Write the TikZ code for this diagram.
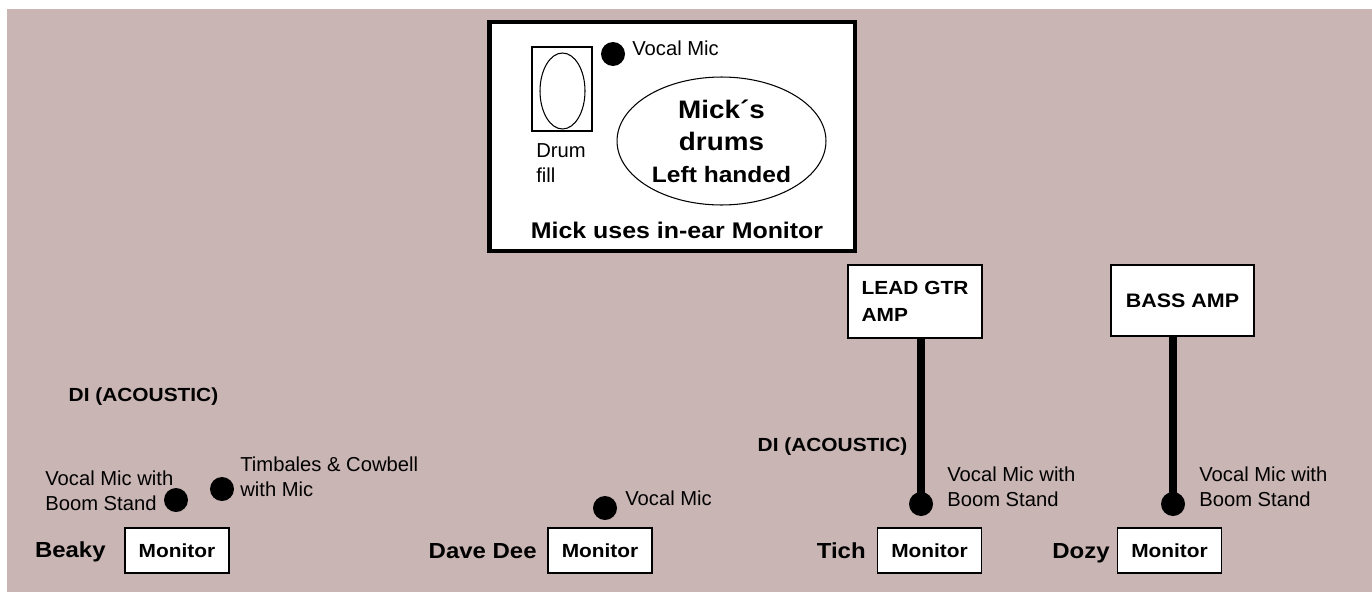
\documentclass[tikz,border=0pt]{standalone}
\usepackage{fontspec}
\setmainfont{Liberation Sans}[BoldFeatures={FakeStretch=1.1}]
\usepackage{xcolor}
\usetikzlibrary{positioning, shapes.geometric}
\definecolor{stagebg}{RGB}{201,181,179}

\begin{document}
\begin{tikzpicture}[x=0.02cm, y=-0.02cm,
    mon/.style={rectangle, draw, fill=white, line width=0.8pt, minimum width=2.08cm,
                minimum height=0.9cm, inner sep=0pt, font=\bfseries\fontsize{10.8}{12}\selectfont},
    amp/.style={rectangle, draw, fill=white, line width=0.8pt, align=left, inner sep=0pt,
                font=\bfseries\fontsize{10.8}{15.3}\selectfont},
    who/.style={anchor=base east, inner sep=0pt, font=\bfseries\fontsize{12.4}{14}\selectfont},
    di/.style={inner sep=0pt, font=\bfseries\fontsize{10.8}{12}\selectfont},
    mic/.style={circle, fill=black, minimum size=0.48cm, inner sep=0pt},
    note/.style={anchor=west, align=left, inner sep=0pt, font=\fontsize{11.5}{14.2}\selectfont},
    cable/.style={line width=5pt}
]
\useasboundingbox (0,0) rectangle (1372,592);
\fill[stagebg] (7,9) rectangle (1372,592);

% drum riser
\node[rectangle, draw, fill=white, line width=2.8pt, minimum width=7.32cm,
      minimum height=4.58cm] (riser) at (672,136.5) {};
\node[rectangle, draw, line width=0.6pt, minimum width=1.2cm, minimum height=1.68cm] (fillbox) at (562,89) {};
\node[ellipse, draw, line width=0.6pt, minimum width=0.9cm, minimum height=1.52cm] (fillpad) at (562.5,91) {};
\node[note] (filllbl) at (536,163) {Drum\\fill};
\node[mic] (drummic) at (613,54) {};
\node[note] (drummiclbl) at (632,48) {Vocal Mic};
\node[ellipse, draw, line width=0.6pt, minimum width=4.18cm, minimum height=2.56cm, align=center,
      inner sep=0pt, font=\bfseries\fontsize{14.4}{18.2}\selectfont] (kit) at (721.5,141)
      {Mick´s\\drums\\{\fontsize{12.7}{14}\selectfont Left handed}};
\node[font=\bfseries\fontsize{12.9}{14}\selectfont, inner sep=0pt] (inear) at (677,230) {Mick uses in-ear Monitor};

% amps
\node[amp, minimum width=2.68cm, minimum height=1.46cm] (leadamp) at (915,301.5) {LEAD GTR\\AMP};
\node[amp, minimum width=2.86cm, minimum height=1.42cm, font=\bfseries\fontsize{11.1}{12}\selectfont]
      (bassamp) at (1182.5,300.5) {BASS AMP};

% DI boxes
\node[di] (dileft) at (143.5,397) {DI (ACOUSTIC)};
\node[di] (diright) at (832.5,447) {DI (ACOUSTIC)};

% front line
\node[mon] (monbeaky) at (177,550.5) {Monitor};
\node[mon] (mondave) at (600,550.5) {Monitor};
\node[mon] (montich) at (929.5,550.5) {Monitor};
\node[mon] (mondozy) at (1169.5,550.5) {Monitor};

\node[who] (beaky) at (106,557) {Beaky};
\node[who] (dave) at (537,558) {Dave Dee};
\node[who] (tich) at (866,558) {Tich};
\node[who] (dozy) at (1110,558) {Dozy};

\node[mic] (beakymic) at (176,500) {};
\node[mic] (timbmic) at (222,489) {};
\node[mic] (davemic) at (605,508) {};
\node[mic] (tichmic) at (921,504) {};
\node[mic] (dozymic) at (1173,504) {};

\node[note] (beakymiclbl) at (45,491) {Vocal Mic with\\Boom Stand};
\node[note] (timblbl) at (240,477) {Timbales \& Cowbell\\with Mic};
\node[note] (davemiclbl) at (625,498) {Vocal Mic};
\node[note] (tichmiclbl) at (947,487) {Vocal Mic with\\Boom Stand};
\node[note] (dozymiclbl) at (1199,487) {Vocal Mic with\\Boom Stand};

% amp leads
\draw[cable] (tichmic.center) -- (tichmic |- leadamp.south);
\draw[cable] (dozymic.center) -- (dozymic |- bassamp.south);
\end{tikzpicture}
\end{document}
